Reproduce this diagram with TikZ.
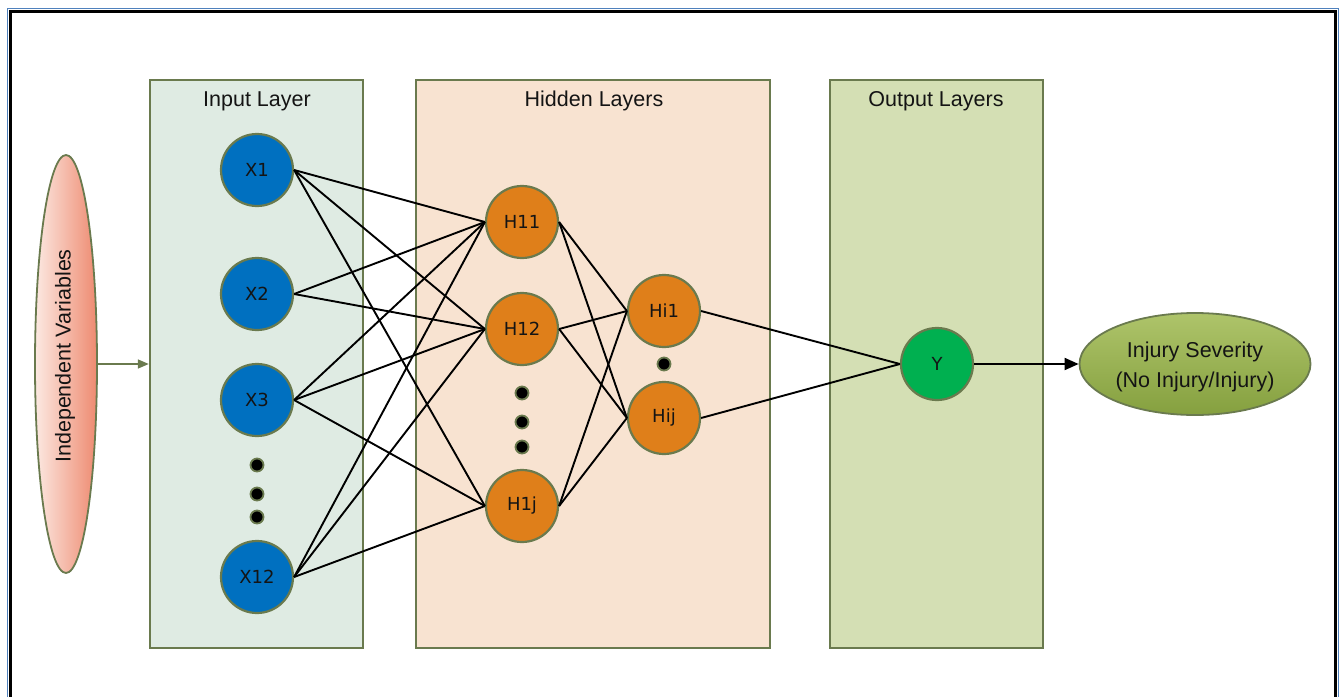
\documentclass[tikz,border=0pt]{standalone}
\usepackage{fontspec}
\setmainfont{Liberation Sans}
\newfontfamily\nodefont{DejaVu Sans}
\usetikzlibrary{shapes.geometric,arrows.meta}
\definecolor{frameblue}{HTML}{4F81BD}
\definecolor{edgegreen}{HTML}{6A7A4E}
\definecolor{inputfill}{HTML}{DFEBE3}
\definecolor{hiddenfill}{HTML}{F8E3D1}
\definecolor{outputfill}{HTML}{D4DFB4}
\definecolor{xblue}{HTML}{0070C0}
\definecolor{horange}{HTML}{DF7F1A}
\definecolor{ygreen}{HTML}{00B050}
\definecolor{salmonlight}{HTML}{FCE9E2}
\definecolor{salmondark}{HTML}{EE8A70}
\definecolor{olivetop}{HTML}{AEC46A}
\definecolor{olivebot}{HTML}{85A03F}
\definecolor{txt}{HTML}{141414}
\begin{document}
\begin{tikzpicture}[x=1pt,y=-1pt,
  layerbox/.style={draw=edgegreen, line width=2.4pt, inner sep=0pt},
  neuron/.style={circle, draw=edgegreen, line width=2.2pt, minimum size=72pt, inner sep=0pt,
    font=\nodefont\fontsize{18}{20}\selectfont, text=txt},
  dotnode/.style={circle, fill=black, draw=edgegreen, line width=1.8pt, minimum size=13pt, inner sep=0pt},
  titletext/.style={font=\fontsize{21.5}{26}\selectfont, text=txt},
  link/.style={line width=1.9pt, black}
]
\useasboundingbox (0,0) rectangle (1343,696);
% outer frame
\draw[frameblue, line width=1.5pt] (7.5,8.5) rectangle (1338.5,720);
\draw[black, line width=3pt] (10,11) rectangle (1335.5,720);

% layer boxes
\node[layerbox, fill=inputfill, minimum width=213pt, minimum height=568pt] (inbox) at (256.5,364) {};
\node[layerbox, fill=hiddenfill, minimum width=354pt, minimum height=568pt] (hidbox) at (593,364) {};
\node[layerbox, fill=outputfill, minimum width=213pt, minimum height=568pt] (outbox) at (936.5,364) {};

\node[titletext] (tin) at (257,101) {Input Layer};
\node[titletext] (thid) at (594,101) {Hidden Layers};
\node[titletext] (tout) at (936,101) {Output Layers};

% independent variables
\node[ellipse, draw=edgegreen, line width=1.8pt, left color=salmonlight, right color=salmondark,
  minimum width=62pt, minimum height=418pt, inner sep=0pt] (iv) at (66,364) {};
\node[titletext, rotate=90] (ivt) at (65,356) {Independent Variables};
\draw[edgegreen, line width=1.6pt, -{Triangle[length=11pt,width=9pt]}] (iv.east) -- (inbox.west);

% input neurons
\node[neuron, fill=xblue] (x1) at (257,170) {X1};
\node[neuron, fill=xblue] (x2) at (257,294) {X2};
\node[neuron, fill=xblue] (x3) at (257,400) {X3};
\node[neuron, fill=xblue] (x12) at (257,577) {X12};
\node[dotnode] (xd1) at (257,465) {};
\node[dotnode] (xd2) at (257,494) {};
\node[dotnode] (xd3) at (257,517) {};

% hidden layer 1
\node[neuron, fill=horange] (h11) at (522,222) {H11};
\node[neuron, fill=horange] (h12) at (522,329) {H12};
\node[neuron, fill=horange] (h1j) at (522,506) {H1j};
\node[dotnode] (hd1) at (522,393) {};
\node[dotnode] (hd2) at (522,422) {};
\node[dotnode] (hd3) at (522,447) {};

% hidden layer i
\node[neuron, fill=horange] (hi1) at (664,311) {Hi1};
\node[neuron, fill=horange] (hij) at (664,418) {Hij};
\node[dotnode] (hid) at (664,364) {};

% output
\node[neuron, fill=ygreen] (y) at (937,364) {Y};
\node[ellipse, draw=edgegreen, line width=1.8pt, top color=olivetop, bottom color=olivebot,
  minimum width=231pt, minimum height=102pt, inner sep=0pt] (sev) at (1195,364) {};
\node[align=center, font=\fontsize{21.5}{30}\selectfont, text=txt] (sevt) at (1195,367)
  {Injury Severity\\(No Injury/Injury)};

% connections input -> hidden 1
\draw[link] (x1.east) -- (h11.west);
\draw[link] (x1.east) -- (h12.west);
\draw[link] (x1.east) -- (h1j.west);
\draw[link] (x2.east) -- (h11.west);
\draw[link] (x2.east) -- (h12.west);
\draw[link] (x3.east) -- (h11.west);
\draw[link] (x3.east) -- (h12.west);
\draw[link] (x3.east) -- (h1j.west);
\draw[link] (x12.east) -- (h11.west);
\draw[link] (x12.east) -- (h12.west);
\draw[link] (x12.east) -- (h1j.west);

% hidden 1 -> hidden i
\draw[link] (h11.east) -- (hi1.west);
\draw[link] (h11.east) -- (hij.west);
\draw[link] (h12.east) -- (hi1.west);
\draw[link] (h12.east) -- (hij.west);
\draw[link] (h1j.east) -- (hi1.west);
\draw[link] (h1j.east) -- (hij.west);

% hidden i -> output
\draw[link] (hi1.east) -- (y.west);
\draw[link] (hij.east) -- (y.west);
\draw[link, -{Triangle[length=14pt,width=12pt]}] (y.east) -- (sev.west);
\end{tikzpicture}
\end{document}
